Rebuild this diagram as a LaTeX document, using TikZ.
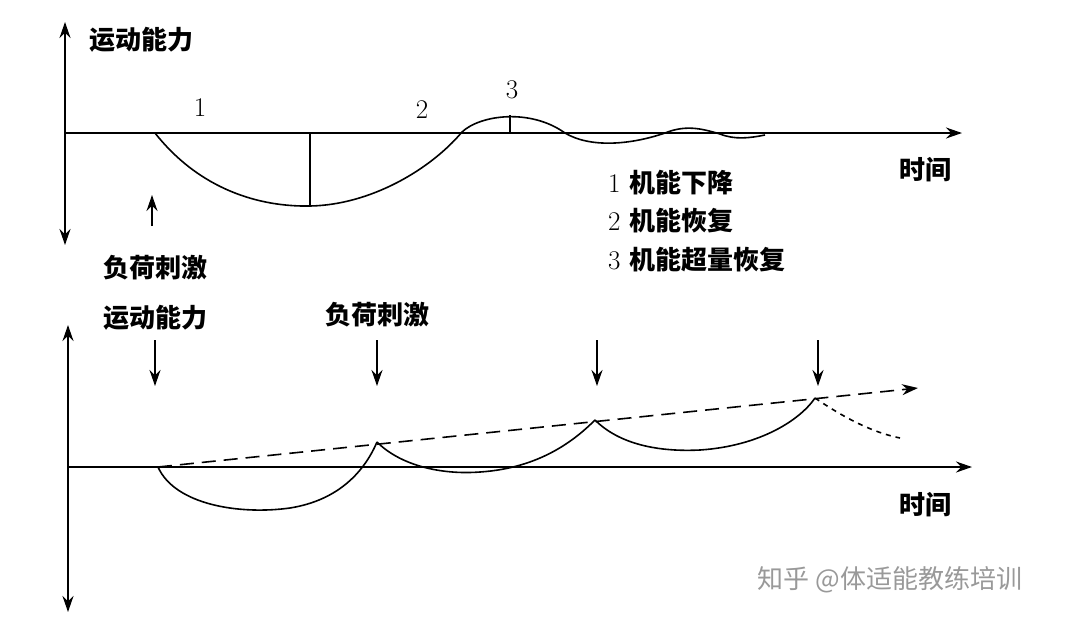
\documentclass[tikz,border=0pt]{standalone}
\usepackage{fontspec}
\newfontfamily\cjk{Noto Sans CJK SC}
\usetikzlibrary{arrows.meta}
\begin{document}
\begin{tikzpicture}[x=1pt,y=-1pt,line width=2pt,
  ax/.style={-{Stealth[length=16pt,width=11pt]}},
  axx/.style={{Stealth[length=16pt,width=11pt]}-{Stealth[length=16pt,width=11pt]}},
  lab/.style={font=\cjk\fontsize{26}{28}\selectfont\bfseries,inner sep=0pt},
  num/.style={font=\fontsize{27}{28}\selectfont,inner sep=0pt},
  crv/.style={line width=1.6pt}]
\useasboundingbox (0,0) rectangle (1080,630);
% top chart
\coordinate (t0) at (65,22); \coordinate (t1) at (65,245);
\draw[axx] (t0) -- (t1);
\coordinate (h0) at (65,133); \coordinate (h1) at (962,133);
\draw[ax] (h0) -- (h1);
\node[lab,anchor=west] (ya) at (88,40) {运动能力};
\node[lab] (tt) at (925,170) {时间};
\draw[crv] (155,133) .. controls (200,190) and (260,207) .. (310,206)
  .. controls (370,205) and (430,170) .. (462,132)
  .. controls (480,115) and (530,108) .. (565,133)
  .. controls (590,148) and (630,145) .. (665,133)
  .. controls (685,125) and (700,128) .. (720,134)
  .. controls (735,140) and (750,138) .. (765,135);
\coordinate (m1a) at (310,133); \coordinate (m1b) at (310,206);
\draw[crv] (m1a) -- (m1b);
\coordinate (m3a) at (510,115); \coordinate (m3b) at (510,133);
\draw[crv] (m3a) -- (m3b);
\node[num] (n1) at (200,108) {1};
\node[num] (n2) at (422,110) {2};
\node[num] (n3) at (512,90) {3};
\node[lab,anchor=west] (l1) at (607,183) {{\fontspec{Latin Modern Roman}\mdseries\fontsize{27}{28}\selectfont 1}\,\,机能下降};
\node[lab,anchor=west] (l2) at (607,221) {{\fontspec{Latin Modern Roman}\mdseries\fontsize{27}{28}\selectfont 2}\,\,机能恢复};
\node[lab,anchor=west] (l3) at (607,260) {{\fontspec{Latin Modern Roman}\mdseries\fontsize{27}{28}\selectfont 3}\,\,机能超量恢复};
\coordinate (sa) at (152,226); \coordinate (sb) at (152,195);
\draw[ax,line width=1.6pt] (sa) -- (sb);
\node[lab] (fh) at (155,268) {负荷刺激};
% bottom chart
\coordinate (b0) at (68,325); \coordinate (b1) at (68,612);
\draw[axx] (b0) -- (b1);
\coordinate (g0) at (68,467); \coordinate (g1) at (972,467);
\draw[ax] (g0) -- (g1);
\node[lab] (ya2) at (155,318) {运动能力};
\node[lab] (fh2) at (377,315) {负荷刺激};
\node[lab] (tt2) at (925,505) {时间};
\foreach \x/\n in {155/a,377/b,597/c,818/d}{
  \coordinate (d\n0) at (\x,340); \coordinate (d\n1) at (\x,386);
  \draw[ax,line width=1.6pt] (d\n0) -- (d\n1);}
\coordinate (p0) at (158,467); \coordinate (p1) at (377,442);
\coordinate (p2) at (595,420); \coordinate (p3) at (815,398);
\coordinate (pe) at (900,438); \coordinate (pa) at (918,388);
\draw[crv] (p0) .. controls (175,505) and (240,515) .. (290,508)
  .. controls (340,500) and (365,470) .. (p1);
\draw[crv] (p1) .. controls (400,465) and (440,475) .. (480,472)
  .. controls (540,468) and (575,440) .. (p2);
\draw[crv] (p2) .. controls (620,445) and (660,452) .. (700,450)
  .. controls (760,446) and (800,420) .. (p3);
\draw[crv,dash pattern=on 5pt off 5pt] (p3) .. controls (840,415) and (870,432) .. (pe);
\draw[ax,line width=1.6pt,dash pattern=on 14pt off 8pt] (p0) -- (pa);
\node[font=\cjk\fontsize{26}{28}\selectfont,text=black!40,inner sep=0pt] (wm) at (890,580) {知乎 @体适能教练培训};
\end{tikzpicture}
\end{document}
